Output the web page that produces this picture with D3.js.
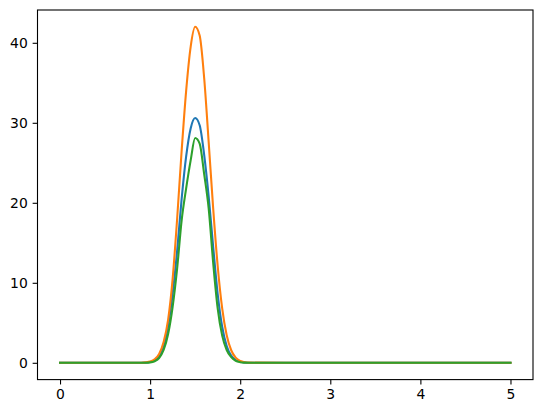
<!DOCTYPE html>
<html>
<head>
<meta charset="utf-8">
<script src="https://cdn.jsdelivr.net/npm/d3@7"></script>
<style>
  html, body { margin: 0; padding: 0; background: #fff; }
  .tick text { font-family: "DejaVu Sans", sans-serif; font-size: 13.9px; fill: #000; }
</style>
</head>
<body>
<svg id="chart" width="543" height="413"></svg>
<script>
// x samples (shared by all three series)
const xs = [0, 0.5, 0.8, 0.9, 0.95, 1.0, 1.05, 1.1, 1.15, 1.2, 1.25, 1.3, 1.35, 1.4, 1.45, 1.5,
  1.55, 1.6, 1.65, 1.7, 1.75, 1.8, 1.85, 1.9, 1.95, 2.0, 2.05, 2.1, 2.5, 3.0, 3.5, 4.0, 4.5, 5.0];

const blueValues = [0, 0, 0, 0, 0.02, 0.11, 0.31, 0.85, 2.0, 4.6, 8.6, 14.0, 20.5, 25.8, 29.3, 30.6,
  29.7, 26.0, 20.8, 14.5, 8.6, 4.5, 2.1, 0.9, 0.35, 0.12, 0.04, 0, 0, 0, 0, 0, 0, 0];

const orangeValues = [0, 0, 0, 0.01, 0.05, 0.15, 0.43, 1.11, 2.6, 5.4, 10.5, 18.0, 26.5, 34.0, 39.5, 42.0,
  40.9, 35.6, 27.6, 19.3, 12.1, 6.8, 3.45, 1.57, 0.64, 0.23, 0.07, 0.02, 0, 0, 0, 0, 0, 0];

const greenValues = [0, 0, 0, 0, 0.01, 0.05, 0.2, 0.6, 1.6, 3.6, 7.0, 11.8, 17.8, 21.8, 25.3, 28.1,
  27.4, 23.6, 19.3, 12.5, 6.8, 3.4, 1.6, 0.7, 0.25, 0.08, 0.02, 0, 0, 0, 0, 0, 0, 0];

const xTicks = [0, 1, 2, 3, 4, 5];
const yTicks = [0, 10, 20, 30, 40];

const series = [
  { name: 'blue', values: blueValues, color: '#1f77b4' },
  { name: 'orange', values: orangeValues, color: '#ff7f0e' },
  { name: 'green', values: greenValues, color: '#2ca02c' }
];

const plotLeft = 37.5, plotRight = 533, plotTop = 10, plotBottom = 379.6;
const tick = 4.86;

const svg = d3.select('#chart');

// matplotlib-style 5% margins
const xExt = d3.extent(xs);
const xPad = (xExt[1] - xExt[0]) * 0.05;
const xscale = d3.scaleLinear()
  .domain([xExt[0] - xPad, xExt[1] + xPad])
  .range([plotLeft, plotRight]);

const allY = series.flatMap((s) => s.values);
const yExt = d3.extent(allY);
const yPad = (yExt[1] - yExt[0]) * 0.05;
const yscale = d3.scaleLinear()
  .domain([yExt[0] - yPad, yExt[1] + yPad])
  .range([plotBottom, plotTop]);

const line = d3.line()
  .x((d, i) => xscale(xs[i]))
  .y((d) => yscale(d))
  .curve(d3.curveMonotoneX);

svg.append('g')
  .selectAll('path')
  .data(series)
  .enter()
  .append('path')
  .attr('fill', 'none')
  .attr('stroke', (d) => d.color)
  .attr('stroke-width', 2.08)
  .attr('stroke-linejoin', 'round')
  .attr('stroke-linecap', 'square')
  .attr('d', (d) => line(d.values));

const bottomAxis = d3.axisBottom(xscale)
  .tickValues(xTicks)
  .tickFormat(d3.format('d'))
  .tickSize(tick)
  .tickPadding(4.86);
const gx = svg.append('g')
  .attr('transform', `translate(0, ${plotBottom})`)
  .call(bottomAxis);

const leftAxis = d3.axisLeft(yscale)
  .tickValues(yTicks)
  .tickFormat(d3.format('d'))
  .tickSize(tick)
  .tickPadding(4.86);
const gy = svg.append('g')
  .attr('transform', `translate(${plotLeft}, 0)`)
  .call(leftAxis);

[gx, gy].forEach((g) => {
  g.select('.domain').remove();
  g.selectAll('.tick line').attr('stroke', '#000').attr('stroke-width', 1.1);
});

svg.append('rect')
  .attr('x', plotLeft)
  .attr('y', plotTop)
  .attr('width', plotRight - plotLeft)
  .attr('height', plotBottom - plotTop)
  .attr('fill', 'none')
  .attr('stroke', '#000')
  .attr('stroke-width', 1.1);
</script>
</body>
</html>
